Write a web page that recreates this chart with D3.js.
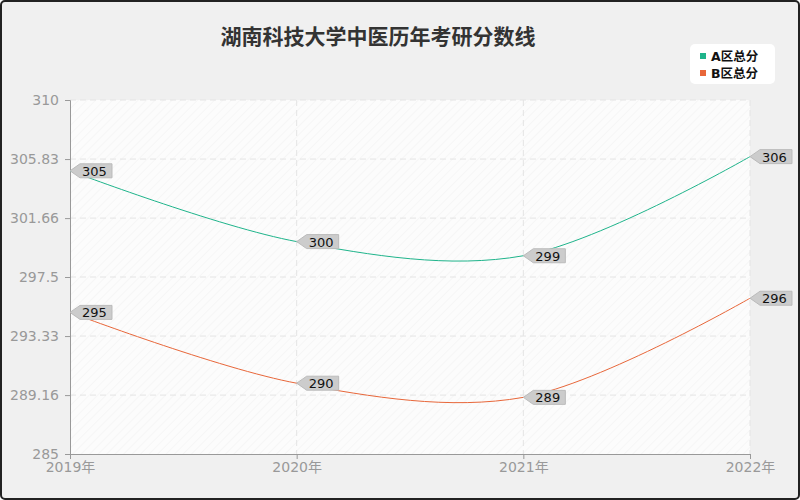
<!DOCTYPE html><html><head><meta charset="utf-8"><script src="https://cdn.jsdelivr.net/npm/d3@7"></script>
<style>body{margin:0;background:#fff}svg{display:block}text{font-family:"DejaVu Sans","Noto Sans CJK SC",sans-serif}</style></head><body><svg id="c" width="800" height="500"></svg><script>
const categories=["2019年","2020年","2021年","2022年"];
const seriesNames=["A区总分","B区总分"];
const seriesA=[305,300,299,306];
const seriesB=[295,290,289,296];
const tickValues=[285,289.16,293.33,297.5,301.66,305.83,310];
const colors=["#1fb48b","#e8673a"];
const svg=d3.select("#c");
svg.append("rect").attr("x",1).attr("y",1).attr("width",798).attr("height",498).attr("rx",4).attr("fill","#f0f0f0").attr("stroke","#222").attr("stroke-width",2);
const defs=svg.append("defs");
const p=defs.append("pattern").attr("id","h").attr("width",6).attr("height",6).attr("patternUnits","userSpaceOnUse").attr("patternTransform","rotate(45)");
p.append("rect").attr("width",6).attr("height",6).attr("fill","#fcfcfc");
p.append("line").attr("x1",0).attr("y1",0).attr("x2",0).attr("y2",6).attr("stroke","#f0f0f0").attr("stroke-width",1);
const x=d3.scalePoint().domain(categories).range([70,750]);
const y=d3.scaleLinear().domain([285,310]).range([454,100]);
svg.append("rect").attr("x",70).attr("y",100).attr("width",680).attr("height",354).attr("fill","url(#h)");
svg.append("g").selectAll("line").data(tickValues.slice(1)).join("line").attr("x1",70).attr("x2",750).attr("y1",d=>y(d)).attr("y2",d=>y(d)).attr("stroke","#e4e4e4").attr("stroke-dasharray","6,4");
svg.append("g").selectAll("line").data(categories.slice(1)).join("line").attr("x1",d=>x(d)).attr("x2",d=>x(d)).attr("y1",100).attr("y2",454).attr("stroke","#e4e4e4").attr("stroke-dasharray","6,4");
const ya=svg.append("g").attr("transform","translate(70,0)").call(d3.axisLeft(y).tickValues(tickValues).tickFormat(d=>String(d)).tickSize(5).tickPadding(6));
const xa=svg.append("g").attr("transform","translate(0,454)").call(d3.axisBottom(x).tickSize(5).tickPadding(3));
[ya,xa].forEach(a=>{a.selectAll("path,line").attr("stroke","#999");a.selectAll("text").attr("fill","#999").attr("font-size",14);});
svg.append("text").attr("x",378).attr("y",44).attr("text-anchor","middle").attr("font-size",21).attr("font-weight","bold").attr("fill","#333").text("湖南科技大学中医历年考研分数线");
const line=d3.line().x((d,i)=>x(categories[i])).y(d=>y(d)).curve(d3.curveCatmullRom.alpha(0.5));
[seriesA,seriesB].forEach((s,k)=>{
svg.append("path").attr("d",line(s)).attr("fill","none").attr("stroke",colors[k]).attr("stroke-width",1);
const g=svg.append("g").selectAll("g").data(s).join("g").attr("transform",(d,i)=>`translate(${x(categories[i])},${y(d)})`);
g.append("path").attr("d","M0,0 L10,-7 L42,-7 L42,7 L10,7 Z").attr("fill","#ccc").attr("stroke","#bbb");
g.append("text").attr("x",12).attr("y",5).attr("font-size",13).attr("fill","#111").text(d=>d);
});
const lg=svg.append("g");
lg.append("rect").attr("x",690).attr("y",44).attr("width",85).attr("height",40).attr("rx",5).attr("fill","#fff");
seriesNames.forEach((n,k)=>{
lg.append("rect").attr("x",700).attr("y",53+k*17).attr("width",6).attr("height",6).attr("fill",colors[k]);
lg.append("text").attr("x",711).attr("y",61+k*17).attr("font-size",12.5).attr("font-weight","bold").attr("fill","#111").text(n);
});
</script></body></html>
